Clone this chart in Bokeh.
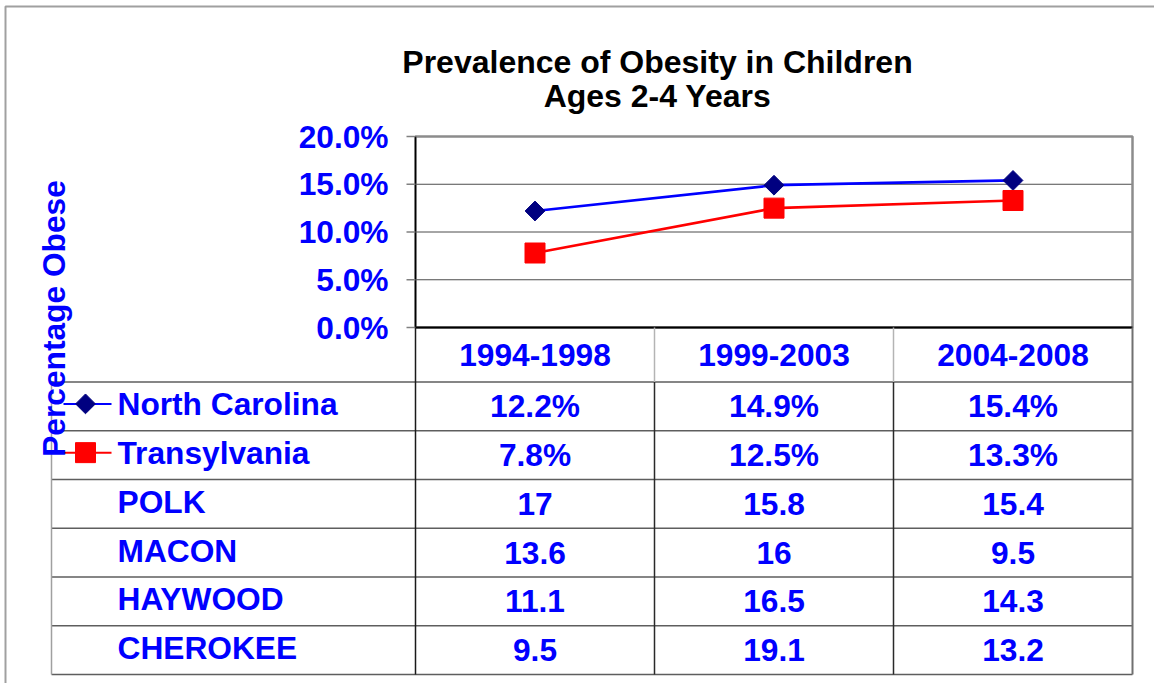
import numpy as np
from bokeh.plotting import figure
from bokeh.models import ColumnDataSource, Range1d
from bokeh.core.properties import value
from bokeh.embed import file_html
from bokeh.resources import INLINE

# ---------------- data ----------------
periods = ["1994-1998", "1999-2003", "2004-2008"]
north_carolina = [0.122, 0.149, 0.154]
transylvania = [0.078, 0.125, 0.133]
polk = [17, 15.8, 15.4]
macon = [13.6, 16, 9.5]
haywood = [11.1, 16.5, 14.3]
cherokee = [9.5, 19.1, 13.2]
row_names = ["North Carolina", "Transylvania", "POLK", "MACON", "HAYWOOD", "CHEROKEE"]
y_ticks = [0.0, 0.05, 0.10, 0.15, 0.20]
title_lines = ["Prevalence of Obesity in Children", "Ages 2-4 Years"]
y_title = "Percentage Obese"

# ---------------- layout / style (page pixels) ----------------
FONT = "Liberation Sans"
BLUE = "#0000FF"
NAVY = "#000080"
RED = "#FF0000"
TXT = "31.7px"
W, H = 1154, 683
FL, FT, FR, FB = 415, 136, 1132, 327      # plot area
Y_MAX = 0.20
CELL = (FR - FL) / len(periods)
PCT_PER_PX = Y_MAX / (FB - FT)
TABLE_L = 51
HEAD_B = 381.5
ROW_H = 48.75
NAME_X = 117
COL_EDGES = [FL + CELL * i for i in range(len(periods) + 1)]

p = figure(width=W, height=H, x_range=Range1d(0, W), y_range=Range1d(H, 0),
           x_axis_location=None, y_axis_location=None, output_backend="svg",
           toolbar_location=None, min_border=0)
p.min_border_left = p.min_border_right = p.min_border_top = p.min_border_bottom = 0
p.outline_line_color = None
p.background_fill_color = "white"
p.border_fill_color = "white"
p.xgrid.visible = False
p.ygrid.visible = False
# scales for the chart: period index across the plot area, percentage up the plot area
p.extra_x_ranges = {"period": Range1d(start=-FL / CELL - 0.5, end=(W - FL) / CELL - 0.5)}
p.extra_y_ranges = {"pct": Range1d(start=-(H - FB) * PCT_PER_PX, end=Y_MAX + FT * PCT_PER_PX)}


def texts(xs, ys, labels, align="center", color=BLUE, size=TXT, baseline="middle",
          angle=0.0, y_range_name="default"):
    src = ColumnDataSource(dict(x=xs, y=ys, text=labels))
    p.text("x", "y", text="text", source=src, text_align=align, text_baseline=baseline,
           text_font=value(FONT), text_font_style="bold", text_font_size=value(size),
           text_color=color, angle=angle, y_range_name=y_range_name)


def segs(x0, y0, x1, y1, color, width, y_range_name="default"):
    src = ColumnDataSource(dict(x0=x0, y0=y0, x1=x1, y1=y1))
    p.segment("x0", "y0", "x1", "y1", source=src, line_color=color, line_width=width,
              y_range_name=y_range_name)


# outer frame
p.quad(left=5, right=W + 20, top=6, bottom=H + 20, fill_alpha=0,
       line_color="#a0a0a0", line_width=2)

# title
texts([657] * len(title_lines), [61, 95], title_lines, color="black", size="32px",
      baseline="alphabetic")

# plot area: grid, border, axis lines, ticks, tick labels
inner = y_ticks[1:-1]
segs([FL] * len(inner), inner, [FR] * len(inner), inner, "#4d4d4d", 1, "pct")
p.quad(left=FL, right=FR, bottom=y_ticks[0], top=y_ticks[-1], fill_alpha=0,
       line_color="#8c8c8c", line_width=2.5, y_range_name="pct")
segs([FL], [y_ticks[0]], [FL], [y_ticks[-1]], "black", 1.5, "pct")
segs([FL], [y_ticks[0]], [FR], [y_ticks[0]], "black", 2, "pct")
segs([FL - 9] * len(y_ticks), y_ticks, [FL] * len(y_ticks), y_ticks, "#808080", 1.5, "pct")
texts([388] * len(y_ticks), y_ticks, [f"{t * 100:.1f}%" for t in y_ticks], align="right",
      y_range_name="pct")

# series
idx = list(range(len(periods)))
src = ColumnDataSource(dict(i=idx, nc=north_carolina, tr=transylvania))
p.line("i", "nc", source=src, line_color=BLUE, line_width=2.7,
       x_range_name="period", y_range_name="pct")
p.scatter("i", "nc", source=src, marker="square", angle=np.pi / 4, size=14,
          fill_color=NAVY, line_color=NAVY, x_range_name="period", y_range_name="pct")
p.line("i", "tr", source=src, line_color=RED, line_width=2.7,
       x_range_name="period", y_range_name="pct")
p.scatter("i", "tr", source=src, marker="square", size=20,
          fill_color=RED, line_color=RED, x_range_name="period", y_range_name="pct")

# data table grid
n_rows = len(row_names)
t_bottom = HEAD_B + ROW_H * n_rows
hy = [HEAD_B + ROW_H * k for k in range(n_rows + 1)]
segs([TABLE_L] * len(hy), hy, [FR] * len(hy), hy, "#5e5e5e", 1.5)
segs([TABLE_L], [HEAD_B], [TABLE_L], [t_bottom], "#a0a0a0", 1.5)
segs([FL], [FB], [FL], [t_bottom], "#1a1a1a", 1.5)
mids = COL_EDGES[1:-1]
segs(mids, [FB] * len(mids), mids, [HEAD_B] * len(mids), "#b4b4b4", 1.5)
segs(mids, [HEAD_B] * len(mids), mids, [t_bottom] * len(mids), "#2a2a2a", 1.5)
segs([FR], [FB], [FR], [t_bottom], "#707070", 2)

# table header and cells
col_centers = [(COL_EDGES[i] + COL_EDGES[i + 1]) / 2 for i in range(len(periods))]
texts(col_centers, [(FB + HEAD_B) / 2] * len(periods), periods)
table_rows = [
    [f"{v * 100:.1f}%" for v in north_carolina],
    [f"{v * 100:.1f}%" for v in transylvania],
    [f"{v:g}" for v in polk],
    [f"{v:g}" for v in macon],
    [f"{v:g}" for v in haywood],
    [f"{v:g}" for v in cherokee],
]
cx, cy, ct = [], [], []
for r, vals in enumerate(table_rows):
    for c, txt in enumerate(vals):
        cx.append(col_centers[c])
        cy.append(HEAD_B + ROW_H * (r + 0.5))
        ct.append(txt)
texts(cx, cy, ct)
texts([NAME_X] * n_rows, [HEAD_B + ROW_H * (r + 0.5) - 2 for r in range(n_rows)],
      row_names, align="left")

# legend keys
nc_y = HEAD_B + ROW_H * 0.5 - 2.5
tr_y = HEAD_B + ROW_H * 1.5 - 2.5
segs([63], [nc_y], [111], [nc_y], BLUE, 2)
segs([63], [tr_y], [111], [tr_y], RED, 2)
p.scatter([85], [nc_y], marker="square", angle=np.pi / 4, size=14,
          fill_color=NAVY, line_color=NAVY)
p.scatter([85], [tr_y], marker="square", size=20, fill_color=RED, line_color=RED)

# y axis title
texts([53], [318], [y_title], baseline="alphabetic", angle=np.pi / 2)

open("out.html", "w").write(file_html(p, INLINE))
